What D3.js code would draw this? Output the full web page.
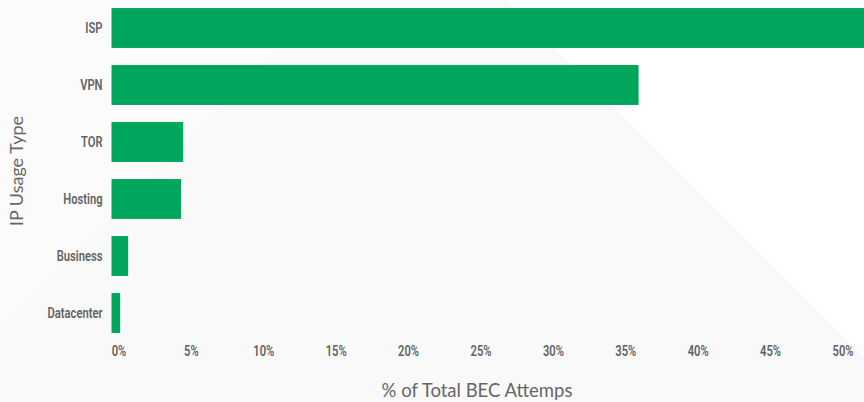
<!DOCTYPE html>
<html>
<head>
<meta charset="utf-8">
<script src="https://cdn.jsdelivr.net/npm/d3@7"></script>
<style>
  html, body { margin: 0; padding: 0; background: #f9f9f9; }
  svg { display: block; }
  .tick text { font-family: "Roboto", "Noto Sans", sans-serif; font-weight: 600; fill: #626262; }
  .axis-title { font-family: "Lato", "Open Sans", sans-serif; fill: #666; }
</style>
</head>
<body>
<svg id="chart" width="864" height="402"></svg>
<script>
const categories = ["ISP", "VPN", "TOR", "Hosting", "Business", "Datacenter"];
const values = [55, 36.4, 4.95, 4.8, 1.15, 0.6];
const xTicks = [0, 5, 10, 15, 20, 25, 30, 35, 40, 45, 50];

const width = 864, height = 402;
const svg = d3.select("#chart");

// background panels
svg.append("rect").attr("width", width).attr("height", height).attr("fill", "#f9f9f9");
svg.append("path").attr("d", "M0,0L328,0L0,328Z").attr("fill", "#fbfbfb");
svg.append("path").attr("d", "M507,0L864,0L864,357Z").attr("fill", "#ffffff");

const x = d3.scaleLinear().domain([0, 50]).range([111.5, 835.5]);
const y = d3.scaleBand().domain(categories).range([-0.5, 341.5])
    .paddingInner(0.3).paddingOuter(0.15);

svg.append("g")
    .selectAll("rect")
    .data(categories)
    .join("rect")
    .attr("x", x(0))
    .attr("y", d => y(d))
    .attr("width", (d, i) => x(values[i]) - x(0))
    .attr("height", y.bandwidth())
    .attr("fill", "#00a65c");

// y axis labels
const yAxis = svg.append("g")
    .attr("transform", `translate(${x(0) - 9},0)`)
    .call(d3.axisLeft(y).tickSize(0).tickPadding(0));
yAxis.select(".domain").remove();
yAxis.selectAll("text").style("font-size", "14.5px");

// x axis labels
const xAxis = svg.append("g")
    .attr("transform", "translate(7,342)")
    .call(d3.axisBottom(x).tickValues(xTicks).tickFormat(d => d + "%").tickSize(0).tickPadding(4));
xAxis.select(".domain").remove();
xAxis.selectAll("text").style("font-size", "14.5px");

// condensed look: squeeze tick labels horizontally so "Datacenter" is ~54px wide
const refLen = yAxis.selectAll("text").filter(d => d === "Datacenter").node().getComputedTextLength();
const squeeze = 55 / refLen;
svg.selectAll(".tick text").attr("transform", function() {
    const tx = +d3.select(this).attr("x") || 0;
    return `translate(${tx * (1 - squeeze)},0) scale(${squeeze},1)`;
});

svg.append("text")
    .attr("class", "axis-title")
    .attr("x", 477)
    .attr("y", 397)
    .attr("text-anchor", "middle")
    .style("font-size", "18.5px")
    .text("% of Total BEC Attemps");

svg.append("text")
    .attr("class", "axis-title")
    .attr("transform", "translate(23,171) rotate(-90)")
    .attr("text-anchor", "middle")
    .style("font-size", "18px")
    .text("IP Usage Type");
</script>
</body>
</html>
